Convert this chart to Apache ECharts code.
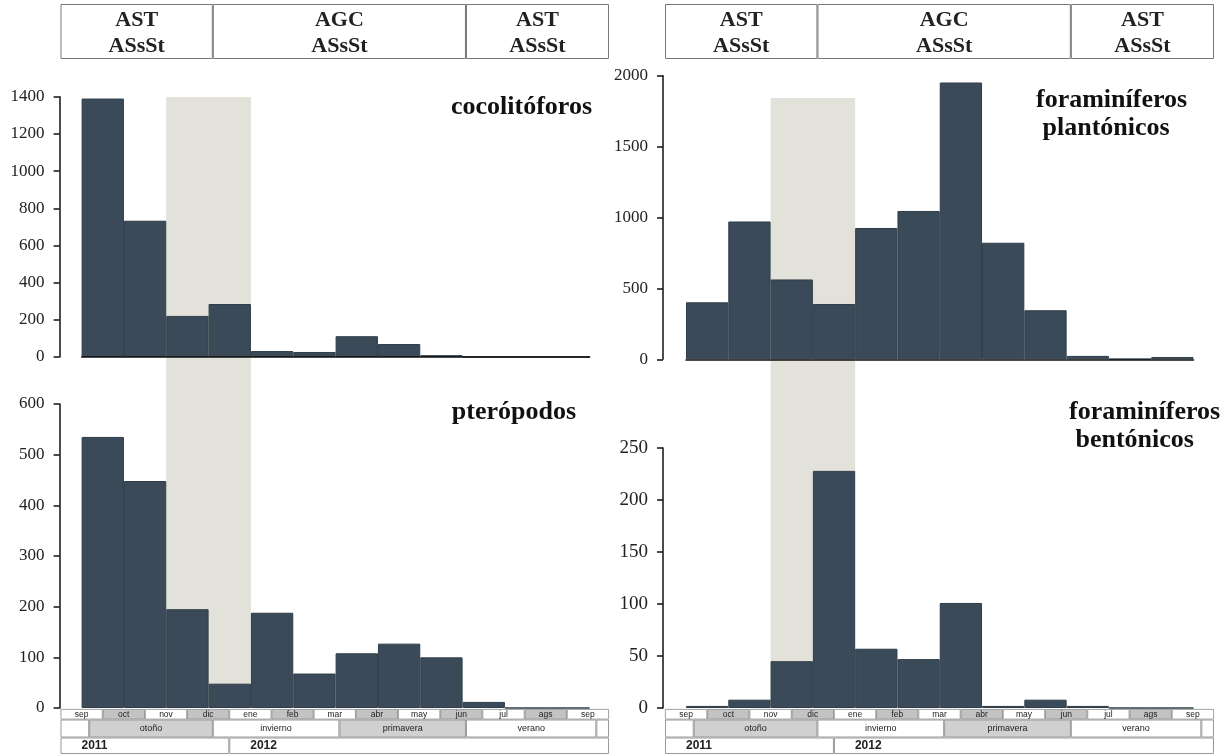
<!DOCTYPE html>
<html>
<head>
<meta charset="utf-8">
<title>cocolitóforos, pterópodos y foraminíferos</title>
<script src="https://cdn.jsdelivr.net/npm/echarts@6/dist/echarts.min.js"></script>
<style>
html,body{margin:0;padding:0;background:#fff;}
#chart{width:1232px;height:754px;}
</style>
</head>
<body>
<div id="chart"></div>
<script>
// intervalos de muestreo (mediados de mes a mediados de mes), sep 2011 - sep 2012
var periods = ['sep-oct','oct-nov','nov-dic','dic-ene','ene-feb','feb-mar','mar-abr','abr-may','may-jun','jun-jul','jul-ags','ags-sep'];
var cocolitoforos = [1390, 733, 221, 285, 32, 27, 112, 70, 10, 0, 0, 0];
var pteropodos = [535, 448, 195, 48, 188, 68, 108, 127, 100, 12, 0, 0];
var foramPlanctonicos = [402, 972, 563, 390, 926, 1046, 1952, 822, 346, 24, 3, 16];
var foramBentonicos = [2, 8, 45, 228, 57, 47, 101, 2, 8, 2, 0, 0];
// periodo sombreado: del primer al último intervalo incluido
var shadedFrom = 'nov-dic';
var shadedTo = 'dic-ene';

// tabla inferior: meses, estaciones y años (en meses desde el inicio de sep 2011)
var months = ['sep','oct','nov','dic','ene','feb','mar','abr','may','jun','jul','ags','sep'];
var seasons = ['', 'otoño', 'invierno', 'primavera', 'verano', ''];
var seasonSpan = [0.68, 2.93, 3.0, 3.0, 3.09, 0.3];
var years = ['2011', '2012'];
var yearSpan = [4, 9];
// masas de agua (cabecera)
var masses = ['AST\nASsSt', 'AGC\nASsSt', 'AST\nASsSt'];
var massSpan = [3.61, 6.0, 3.39];

var chart = echarts.init(document.getElementById('chart'));
var serif = '"Liberation Serif", "Times New Roman", serif';
var sans = '"Liberation Sans", Arial, sans-serif';
var barColor = '#3a4a58';
var shadeColor = '#e2e2da';

var grid = [], xAxis = [], yAxis = [], series = [];

function addGrid(g) {
  grid.push(g);
  return grid.length - 1;
}

// panel de barras
function panel(g, data, max, step, baseline, yOffset, labelSize) {
  var gi = addGrid(g);
  xAxis.push({
    gridIndex: gi, type: 'category', data: periods, z: 4,
    axisLine: {show: baseline, lineStyle: {color: '#111', width: 1.5}},
    axisTick: {show: false}, axisLabel: {show: false}
  });
  yAxis.push({
    gridIndex: gi, type: 'value', min: 0, max: max, interval: step, offset: yOffset, z: 4,
    axisLine: {show: true, lineStyle: {color: '#111', width: 1.5}},
    axisTick: {show: true, length: 6, lineStyle: {color: '#111', width: 1.5}},
    axisLabel: {
      fontFamily: serif, fontSize: labelSize, color: '#222', margin: 15,
      formatter: function (v) { return String(v); }
    },
    splitLine: {show: false}
  });
  series.push({
    type: 'bar', xAxisIndex: gi, yAxisIndex: gi, data: data, barWidth: '100%', z: 3,
    itemStyle: {color: barColor, borderColor: '#303e49', borderWidth: 1}
  });
}

// franja sombreada que cruza los dos paneles (eje x en intervalos 0..12)
function shade(g) {
  var gi = addGrid(g);
  xAxis.push({gridIndex: gi, type: 'value', min: 0, max: periods.length, show: false});
  yAxis.push({gridIndex: gi, type: 'value', min: 0, max: 1, show: false});
  series.push({
    type: 'line', xAxisIndex: gi, yAxisIndex: gi, data: [], z: 1, silent: true,
    markArea: {
      silent: true,
      itemStyle: {color: shadeColor},
      data: [[
        {xAxis: periods.indexOf(shadedFrom), yAxis: 0},
        {xAxis: periods.indexOf(shadedTo) + 1, yAxis: 1}
      ]]
    }
  });
}

function monthRow(left, width) {
  var gi = addGrid({left: left, width: width, top: 709, height: 10.5});
  xAxis.push({gridIndex: gi, type: 'category', data: months.map(function (m, i) { return i + m; }), show: false});
  yAxis.push({gridIndex: gi, type: 'value', min: 0, max: 1, show: false});
  series.push({
    type: 'bar', xAxisIndex: gi, yAxisIndex: gi, barWidth: '100%', silent: true, z: 2,
    data: months.map(function (m, i) {
      return {value: 1, itemStyle: {color: i % 2 ? '#c3c3c3' : '#fff'}};
    }),
    itemStyle: {borderColor: '#8a8a8a', borderWidth: 0.8},
    label: {
      show: true, position: 'inside', fontFamily: sans, fontSize: 8.5, color: '#222',
      formatter: function (p) { return months[p.dataIndex]; }
    }
  });
}

// fila de celdas de ancho variable (estaciones, años, cabecera)
function spanRow(left, width, top, height, names, spans, colors, border, label) {
  var gi = addGrid({left: left, width: width, top: top, height: height});
  xAxis.push({gridIndex: gi, type: 'value', min: 0, max: 13, show: false});
  yAxis.push({gridIndex: gi, type: 'category', data: ['r'], show: false});
  names.forEach(function (n, i) {
    series.push({
      type: 'bar', xAxisIndex: gi, yAxisIndex: gi, stack: 'row' + gi, barWidth: '100%', silent: true, z: 2,
      data: [spans[i]],
      itemStyle: {color: colors[i], borderColor: border, borderWidth: 1},
      label: Object.assign({show: true, formatter: function () { return n; }}, label)
    });
  });
}

function side(stripLeft, stripWidth) {
  var seasonColors = ['#fff', '#d0d0d0', '#fff', '#d0d0d0', '#fff', '#fff'];
  monthRow(stripLeft, stripWidth);
  spanRow(stripLeft, stripWidth, 719.5, 18, seasons, seasonSpan, seasonColors, '#9a9a9a',
    {position: 'inside', fontFamily: sans, fontSize: 9, color: '#222'});
  spanRow(stripLeft, stripWidth, 737.5, 17, years, yearSpan, ['#fff', '#fff'], '#9a9a9a',
    {position: 'insideLeft', distance: 21, fontFamily: sans, fontSize: 12, fontWeight: 'bold', color: '#222'});
  spanRow(stripLeft, stripWidth, 4, 55, masses, massSpan, ['#fff', '#fff', '#fff'], '#777',
    {position: 'inside', offset: [0, 2], fontFamily: serif, fontSize: 22, fontWeight: 'bold', lineHeight: 26, color: '#222'});
}

// izquierda
panel({left: 81.6, width: 508, top: 96.7, height: 260.3}, cocolitoforos, 1400, 200, true, 22, 17);
panel({left: 81.6, width: 508, top: 404, height: 304}, pteropodos, 600, 100, false, 22, 17);
shade({left: 81.6, width: 508, top: 97, height: 611});
side(60.5, 548.5);
// derecha
panel({left: 686, width: 507.5, top: 75.7, height: 283.6}, foramPlanctonicos, 2000, 500, true, 23, 17);
panel({left: 686, width: 507.5, top: 448, height: 260}, foramBentonicos, 250, 50, false, 23, 19);
shade({left: 686, width: 507.5, top: 98, height: 610});
side(665, 549);

var titleStyle = {fontFamily: serif, fontWeight: 'bold', fontSize: 26, color: '#111', lineHeight: 28};

chart.setOption({
  animation: false,
  backgroundColor: '#fff',
  title: [
    {text: 'cocolitóforos', right: 640, top: 93, padding: 0, textStyle: titleStyle},
    {text: 'pterópodos', right: 656, top: 398, padding: 0, textStyle: titleStyle},
    {text: 'foraminíferos\n plantónicos', left: 1036, top: 86, padding: 0, textAlign: 'left', textStyle: titleStyle},
    {text: 'foraminíferos\n bentónicos', left: 1069, top: 398, padding: 0, textAlign: 'left', textStyle: titleStyle}
  ],
  grid: grid,
  xAxis: xAxis,
  yAxis: yAxis,
  series: series
});
</script>
</body>
</html>
